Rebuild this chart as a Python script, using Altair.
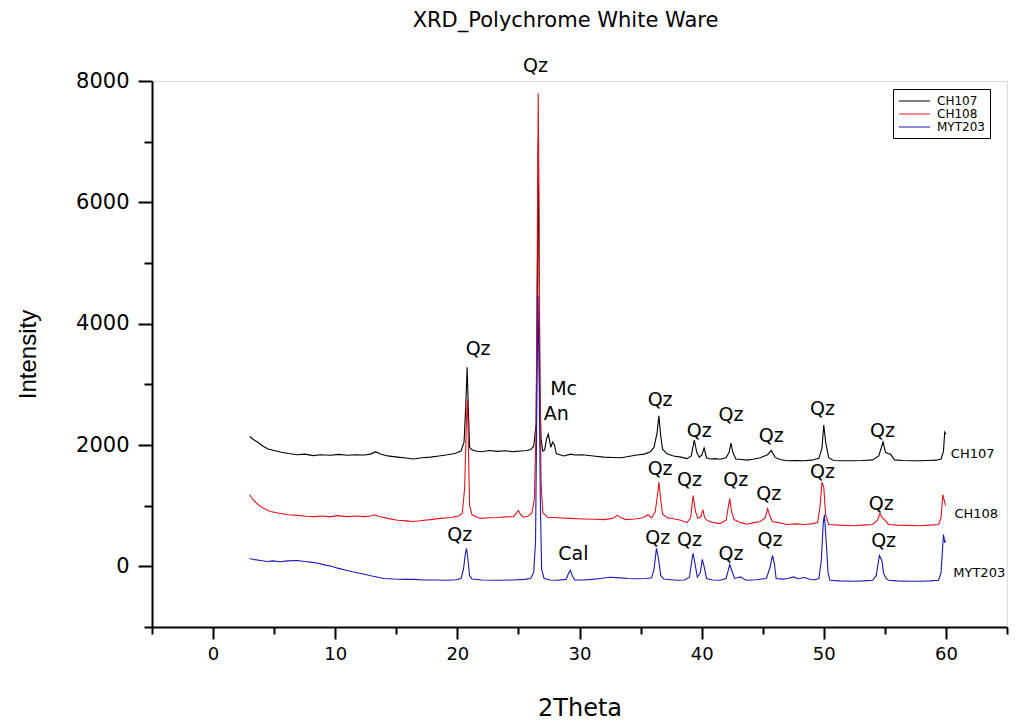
import altair as alt
import pandas as pd

samples = ["CH107", "CH108", "MYT203"]
colors = ["#000000", "#e0141c", "#1a1ab4"]

# (2Theta, intensity)
ch107 = [
    (3.0, 2140), (3.3, 2090), (3.7, 2040), (4.1, 1980), (4.5, 1935), (5.0, 1910), (5.6, 1880),
    (6.2, 1860), (6.9, 1840), (7.5, 1850), (8.2, 1825), (8.8, 1840), (9.6, 1830), (10.3, 1845),
    (11.0, 1830), (11.7, 1840), (12.4, 1835), (12.9, 1850), (13.3, 1890), (13.7, 1850), (14.3, 1820),
    (15.1, 1800), (15.8, 1785), (16.4, 1770), (17.1, 1790), (17.8, 1800), (18.5, 1820), (19.2, 1840),
    (19.8, 1860), (20.3, 1900), (20.55, 2050), (20.7, 2700), (20.8, 3280), (20.9, 2600), (21.0, 1960),
    (21.2, 1920), (21.5, 1900), (22.0, 1890), (22.6, 1910), (23.3, 1895), (23.9, 1905), (24.6, 1890),
    (25.2, 1900), (25.7, 1910), (26.0, 1925), (26.25, 1980), (26.45, 2350), (26.55, 4600),
    (26.62, 7000), (26.68, 5200), (26.75, 3000), (26.85, 2100), (27.0, 1900), (27.15, 1920),
    (27.3, 2100), (27.45, 2180), (27.65, 1960), (27.8, 2050), (27.95, 2000), (28.1, 1860),
    (28.7, 1820), (29.3, 1850), (29.6, 1835), (30.2, 1840), (30.6, 1830), (31.3, 1815), (32.0, 1800),
    (32.7, 1795), (33.4, 1790), (34.0, 1810), (34.7, 1835), (35.3, 1850), (35.8, 1890), (36.1, 1960),
    (36.35, 2200), (36.5, 2480), (36.65, 2150), (36.8, 1930), (37.2, 1850), (37.7, 1820), (38.3, 1800),
    (38.8, 1775), (39.15, 1820), (39.4, 2080), (39.6, 1880), (39.8, 1800), (40.0, 1830), (40.2, 1950),
    (40.4, 1790), (40.7, 1770), (41.1, 1775), (41.5, 1765), (42.0, 1790), (42.25, 1880), (42.4, 2030),
    (42.55, 1880), (42.8, 1770), (43.3, 1760), (43.7, 1750), (44.2, 1765), (44.8, 1790), (45.4, 1840),
    (45.7, 1910), (46.0, 1800), (46.4, 1760), (47.0, 1740), (47.7, 1745), (48.4, 1740), (49.0, 1750),
    (49.6, 1780), (49.85, 1950), (50.0, 2330), (50.15, 2050), (50.4, 1790), (50.8, 1745), (51.5, 1740),
    (52.4, 1740), (53.2, 1745), (54.0, 1755), (54.5, 1820), (54.85, 2050), (55.05, 1880),
    (55.25, 1860), (55.45, 1850), (55.8, 1755), (56.5, 1745), (57.2, 1740), (57.8, 1740),
    (58.5, 1745), (59.2, 1750), (59.6, 1770), (59.8, 1900), (59.9, 2210), (60.0, 2180),
]

ch108 = [
    (3.0, 1180), (3.3, 1090), (3.7, 1015), (4.1, 960), (4.7, 905), (5.3, 880), (6.1, 850), (6.9, 840),
    (7.6, 825), (8.3, 820), (9.0, 830), (9.6, 815), (10.2, 835), (11.0, 820), (11.7, 830), (12.4, 820),
    (12.9, 830), (13.2, 850), (13.6, 820), (14.3, 790), (15.1, 760), (15.8, 750), (16.4, 740),
    (17.1, 755), (17.8, 770), (18.6, 790), (19.5, 805), (20.1, 830), (20.4, 870), (20.6, 1300),
    (20.75, 2450), (20.82, 2750), (20.9, 2000), (21.0, 1000), (21.2, 850), (21.5, 820), (21.9, 790),
    (22.6, 800), (23.3, 805), (24.0, 815), (24.6, 820), (24.85, 880), (25.0, 920), (25.15, 860),
    (25.4, 810), (25.8, 830), (26.1, 880), (26.3, 1100), (26.45, 2300), (26.55, 5500), (26.62, 7800),
    (26.68, 6200), (26.75, 3500), (26.85, 1400), (27.0, 880), (27.4, 810), (28.2, 800), (29.3, 790),
    (30.3, 780), (31.2, 775), (32.0, 770), (32.7, 790), (33.1, 840), (33.4, 800), (33.8, 770),
    (34.5, 780), (35.2, 800), (35.6, 850), (35.9, 800), (36.2, 900), (36.4, 1200), (36.5, 1390),
    (36.65, 1100), (36.8, 860), (37.2, 800), (37.7, 785), (38.3, 760), (38.8, 720), (39.1, 800),
    (39.3, 1165), (39.5, 900), (39.7, 790), (39.95, 820), (40.1, 935), (40.25, 800), (40.5, 750),
    (41.0, 720), (41.5, 705), (42.0, 760), (42.2, 1000), (42.3, 1115), (42.45, 900), (42.65, 770),
    (43.2, 720), (43.7, 695), (44.3, 720), (44.8, 740), (45.2, 800), (45.4, 950), (45.6, 820),
    (45.8, 740), (46.3, 720), (47.0, 690), (47.7, 700), (48.4, 690), (49.0, 700), (49.5, 720),
    (49.7, 1000), (49.85, 1390), (50.0, 1300), (50.15, 850), (50.4, 690), (51.2, 680), (52.4, 670),
    (53.2, 680), (54.0, 690), (54.4, 760), (54.6, 870), (54.8, 800), (55.0, 760), (55.3, 690),
    (56.0, 680), (56.8, 675), (57.9, 670), (58.7, 680), (59.4, 690), (59.6, 800), (59.75, 1180),
    (59.9, 1050), (60.0, 1000),
]

myt203 = [
    (3.0, 130), (3.4, 110), (3.9, 95), (4.4, 80), (4.9, 90), (5.5, 75), (6.1, 90), (6.9, 95), (7.5, 80),
    (8.0, 70), (8.6, 50), (9.2, 20), (9.7, 0), (10.2, -30), (10.8, -60), (11.4, -90), (12.0, -115),
    (12.4, -130), (13.0, -160), (13.6, -185), (14.0, -200), (14.8, -210), (15.6, -215), (16.4, -215),
    (17.3, -225), (18.2, -225), (19.2, -230), (19.9, -220), (20.3, -200), (20.5, -50), (20.65, 200),
    (20.75, 295), (20.85, 150), (21.0, -150), (21.2, -210), (22.0, -225), (23.3, -230), (24.5, -225),
    (25.5, -215), (26.0, -200), (26.25, -100), (26.4, 400), (26.5, 2500), (26.6, 4450), (26.7, 3000),
    (26.8, 1000), (26.9, -50), (27.1, -200), (27.6, -225), (28.2, -230), (28.9, -215), (29.1, -120),
    (29.25, -65), (29.4, -150), (29.6, -225), (30.3, -225), (31.0, -215), (31.7, -200), (32.5, -180),
    (33.3, -190), (34.0, -200), (34.7, -205), (35.5, -200), (35.9, -190), (36.1, -50), (36.3, 295),
    (36.45, 150), (36.65, -150), (36.9, -210), (37.5, -220), (38.0, -230), (38.6, -225), (39.0, -180),
    (39.2, 100), (39.3, 215), (39.45, 50), (39.65, -180), (39.9, -100), (40.05, 115), (40.2, 0),
    (40.4, -200), (40.9, -225), (41.5, -230), (42.0, -200), (42.2, -50), (42.3, 30), (42.45, -60),
    (42.7, -200), (43.2, -175), (43.5, -215), (43.7, -230), (44.5, -220), (45.3, -200), (45.6, -20),
    (45.8, 180), (45.95, 50), (46.1, -200), (46.6, -210), (47.1, -200), (47.5, -175), (47.9, -205),
    (48.4, -185), (48.8, -210), (49.2, -225), (49.6, -200), (49.8, 100), (49.95, 700), (50.05, 850),
    (50.2, 400), (50.35, -100), (50.5, -230), (51.3, -240), (52.4, -245), (53.2, -240), (54.0, -230),
    (54.3, -150), (54.55, 180), (54.75, 100), (54.9, -120), (55.1, -200), (55.3, -230), (56.0, -240),
    (57.0, -245), (57.9, -245), (58.7, -240), (59.4, -230), (59.6, -100), (59.8, 525), (59.9, 400),
    (60.0, 420),
]

peak_labels = ["Qz", "Qz", "Mc", "An", "Qz", "Qz", "Qz", "Qz", "Qz", "Qz",
               "Qz", "Qz", "Qz", "Qz", "Qz", "Qz",
               "Qz", "Cal", "Qz", "Qz", "Qz", "Qz", "Qz"]
peak_x = [26.4, 21.7, 28.7, 28.1, 36.6, 39.8, 42.4, 45.7, 49.9, 54.8,
          36.6, 39.0, 42.8, 45.5, 49.9, 54.7,
          20.2, 29.5, 36.4, 39.0, 42.4, 45.6, 54.9]
peak_y = [8240, 3590, 2930, 2510, 2740, 2230, 2490, 2150, 2590, 2230,
          1610, 1430, 1430, 1200, 1560, 1030,
          520, 200, 460, 440, 210, 440, 410]

series_label_x = [60.4, 60.7, 60.6]
series_label_y = [1850, 870, -115]

x_ticks = list(range(-5, 66, 5))
y_ticks = list(range(-1000, 8001, 1000))

FONT = "DejaVu Sans"

x_enc = alt.X(
    "x:Q",
    scale=alt.Scale(domain=[-5, 65], nice=False, zero=False),
    axis=alt.Axis(
        values=x_ticks,
        labelExpr="datum.value % 10 == 0 ? datum.label : ''",
        tickSize={"condition": {"test": "datum.value % 10 == 0", "value": 12}, "value": 7},
        grid=False, domainColor="black", domainWidth=2, tickColor="black", tickWidth=2,
        labelFont=FONT, labelFontSize=18, labelColor="black", labelPadding=6,
        labelFlush=False, labelOverlap=False,
        titleFont=FONT, titleFontSize=24, titleFontWeight="normal", titleColor="black",
        titlePadding=33,
    ),
    title="2Theta",
)
y_enc = alt.Y(
    "y:Q",
    scale=alt.Scale(domain=[-1000, 8000], nice=False, zero=False),
    axis=alt.Axis(
        values=y_ticks, format="d",
        labelExpr="datum.value % 2000 == 0 ? datum.label : ''",
        tickSize={"condition": {"test": "datum.value % 2000 == 0", "value": 14}, "value": 8},
        grid=False, domainColor="black", domainWidth=2, tickColor="black", tickWidth=2,
        labelFont=FONT, labelFontSize=21, labelColor="black", labelPadding=9,
        labelOverlap=False,
        titleFont="Liberation Sans", titleFontSize=24, titleFontWeight="normal", titleColor="black",
        titlePadding=35,
    ),
    title="Intensity",
)

color = alt.Color(
    "Sample:N",
    scale=alt.Scale(domain=samples, range=colors),
    legend=alt.Legend(
        title=None, orient="none", legendX=741, legendY=8,
        symbolType="M-1,0H4.1", symbolSize=150, symbolStrokeWidth=1,
        labelFont=FONT, labelFontSize=12, labelColor="black", labelOffset=25,
        strokeColor="black", padding=5, rowPadding=0, cornerRadius=0,
    ),
)

layers = []
for name, pts in zip(samples, [ch107, ch108, myt203]):
    df = pd.DataFrame({"x": [p[0] for p in pts], "y": [p[1] for p in pts], "Sample": name})
    layers.append(
        alt.Chart(df).mark_line(strokeWidth=1.1).encode(x=x_enc, y=y_enc, color=color)
    )

peaks_df = pd.DataFrame({"x": peak_x, "y": peak_y, "label": peak_labels})
peak_text = alt.Chart(peaks_df).mark_text(
    font=FONT, fontSize=19, color="black", align="center", baseline="middle"
).encode(x=x_enc, y=y_enc, text="label:N")

series_df = pd.DataFrame({"x": series_label_x, "y": series_label_y, "label": samples})
series_text = alt.Chart(series_df).mark_text(
    font=FONT, fontSize=13, color="black", align="left", baseline="middle"
).encode(x=x_enc, y=y_enc, text="label:N")

chart = alt.layer(*layers, peak_text, series_text).properties(
    width=855, height=546,
    title=alt.TitleParams(
        "XRD_Polychrome White Ware", font=FONT, fontSize=21, fontWeight="normal",
        color="black", anchor="middle", dx=-14, offset=26,
    ),
    autosize=alt.AutoSizeParams(type="none"),
    padding={"left": 152, "top": 81, "right": 10, "bottom": 94},
).configure_view(stroke=None).configure(background="white")

chart.save("out.html", embed_options={"renderer": "svg", "actions": False})
